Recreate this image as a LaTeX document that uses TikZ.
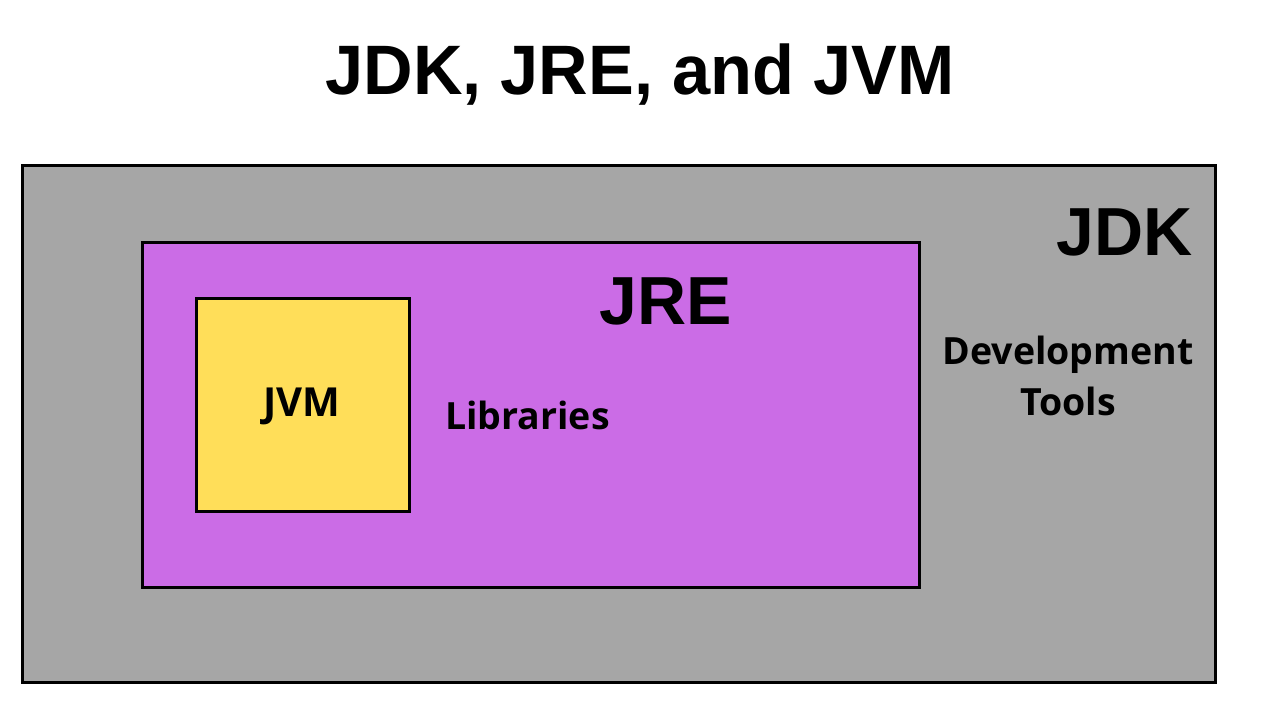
\documentclass[tikz,border=0pt]{standalone}
\usepackage{fontspec}
\setmainfont{Liberation Sans}
\newfontfamily\labfont{Open Sans}
\definecolor{jdkgray}{HTML}{A6A6A6}
\definecolor{jrepurple}{HTML}{CB6CE6}
\definecolor{jvmyellow}{HTML}{FFDE59}
\begin{document}
\begin{tikzpicture}[x=1pt,y=-1pt,
  box/.style={draw=black,line width=3pt},
  big/.style={font=\fontsize{68}{70}\selectfont\bfseries,inner sep=0pt},
  lab/.style={font=\labfont\fontsize{37.5}{51}\selectfont\bfseries,inner sep=0pt,align=center}]
\useasboundingbox[fill=white] (0,0) rectangle (1280,720);
\node[big,font=\fontsize{70}{72}\selectfont\bfseries,xscale=0.98] (title) at (640,75) {JDK, JRE, and JVM};
\draw[box,fill=jdkgray] (22,165) rectangle (1215,682);
\draw[box,fill=jrepurple] (142,242) rectangle (919,587);
\draw[box,fill=jvmyellow] (196,298) rectangle (409,511);
\node[big,anchor=east] (jdk) at (1193,232) {JDK};
\node[big] (jre) at (666,301) {JRE};
\node[lab,font=\labfont\fontsize{40}{50}\selectfont\bfseries] (jvm) at (302,406) {JVM};
\node[lab,anchor=west] (libs) at (445,415) {Libraries};
\node[lab] (tools) at (1068,376) {Development\\Tools};
\end{tikzpicture}
\end{document}
